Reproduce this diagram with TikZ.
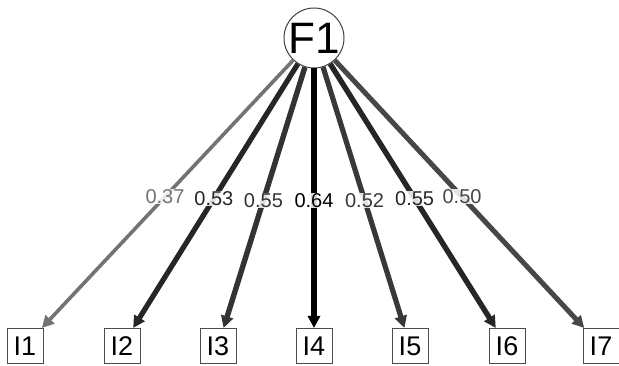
\documentclass[tikz,border=0pt]{standalone}
\usepackage{fontspec}
\setmainfont{Liberation Sans}
\usetikzlibrary{arrows.meta}
\definecolor{c1}{gray}{0.45}
\definecolor{c2}{gray}{0.15}
\definecolor{c3}{gray}{0.2}
\definecolor{c4}{gray}{0.0}
\definecolor{c5}{gray}{0.22}
\definecolor{c6}{gray}{0.15}
\definecolor{c7}{gray}{0.28}
\tikzset{
  ind/.style={draw=black!70, line width=1pt, fill=white, minimum width=36pt, minimum height=35pt, inner sep=0pt, font=\fontsize{27}{27}\selectfont},
  lat/.style={circle, draw=black!75, line width=1pt, fill=white, minimum size=60pt, inner sep=0pt, font=\fontsize{44}{44}\selectfont},
  load/.style={-{Triangle[length=12pt,width=12pt]}},
  lab/.style={fill=white, fill opacity=0.85, text opacity=1, inner sep=0.3pt, font=\fontsize{20}{20}\selectfont, pos=0.51}
}
\begin{document}
\begin{tikzpicture}[x=1pt,y=-1pt]
\useasboundingbox (0,0) rectangle (619,366);
\node[lat] (F1) at (314,38) {F1};
\node[ind] (I1) at (25,346) {I1};
\node[ind] (I2) at (122,346) {I2};
\node[ind] (I3) at (218,346) {I3};
\node[ind] (I4) at (314,346) {I4};
\node[ind] (I5) at (410,346) {I5};
\node[ind] (I6) at (507,346) {I6};
\node[ind] (I7) at (601,346) {I7};
\draw[load, c1, line width=3.6pt] (F1) -- node[lab, text=c1] {0.37} (I1);
\draw[load, c2, line width=5.2pt] (F1) -- node[lab, text=c2] {0.53} (I2);
\draw[load, c3, line width=5.4pt] (F1) -- node[lab, text=c3] {0.55} (I3);
\draw[load, c4, line width=6.2pt] (F1) -- node[lab, text=c4] {0.64} (I4);
\draw[load, c5, line width=5.2pt] (F1) -- node[lab, text=c5] {0.52} (I5);
\draw[load, c6, line width=5.4pt] (F1) -- node[lab, text=c6] {0.55} (I6);
\draw[load, c7, line width=5pt] (F1) -- node[lab, text=c7] {0.50} (I7);
\end{tikzpicture}
\end{document}
